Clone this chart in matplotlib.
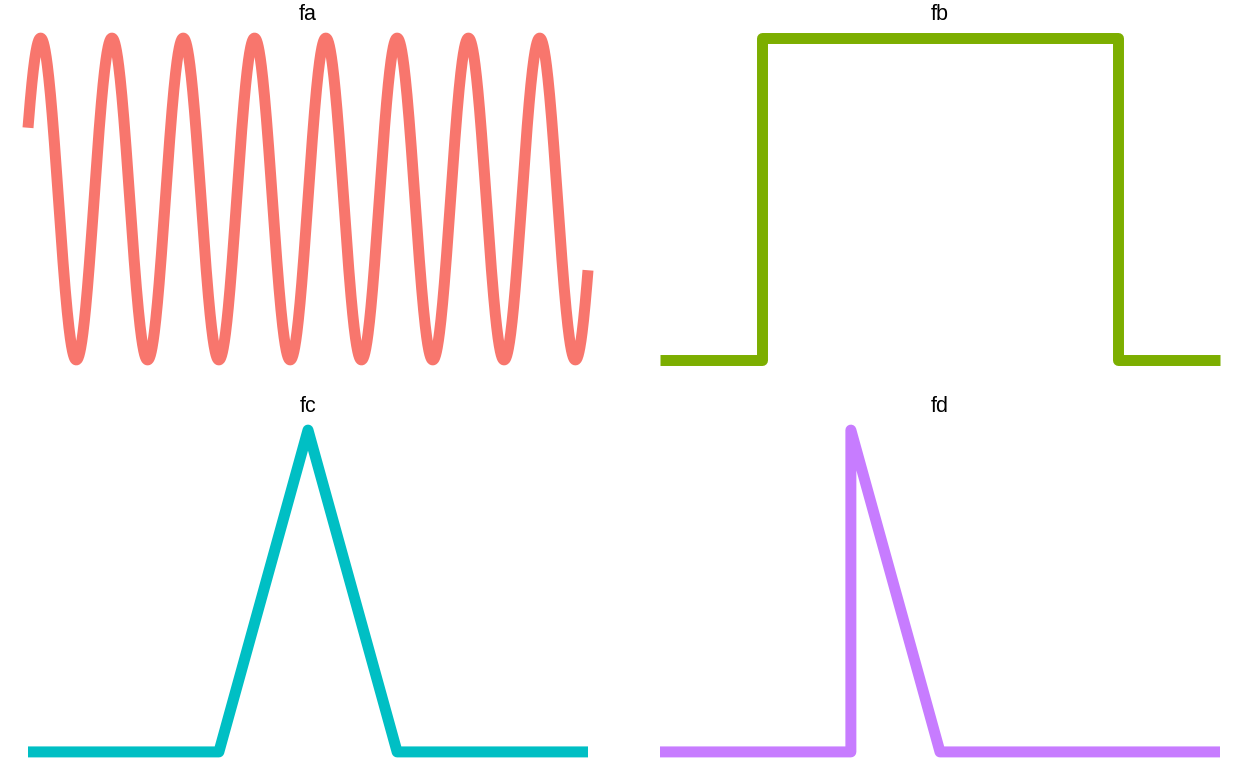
import numpy as np
import matplotlib
matplotlib.use("Agg")
import matplotlib.pyplot as plt

# ---- data ----
panel_names = ["fa", "fb", "fc", "fd"]
panel_colors = ["#F8766D", "#7CAE00", "#00BFC4", "#C77CFF"]

x_min, x_max = -np.pi, np.pi

# fa: sine wave, cycles per unit x (~7.85 cycles over the range)
fa_cycles_per_unit = 1.25
fa_amplitude = 1.0

# fb: rectangle pulse breakpoints
fb_x = [-np.pi, -2.0, -2.0, 2.0, 2.0, np.pi]
fb_y = [0, 0, 1, 1, 0, 0]

# fc: triangle pulse breakpoints
fc_x = [-np.pi, -1.0, 0.0, 1.0, np.pi]
fc_y = [0, 0, 1, 0, 0]

# fd: sawtooth pulse breakpoints
fd_x = [-np.pi, -1.0, -1.0, 0.0, np.pi]
fd_y = [0, 0, 1, 0, 0]

# ---- figure ----
W, H = 1248, 768
fig = plt.figure(figsize=(W / 100, H / 100), dpi=100)

left_w = 616 / W
right_x = 632 / W
ph = 354 / H
top_y = 1 - 376 / H

positions = [
    [0, top_y, left_w, ph],
    [right_x, top_y, left_w, ph],
    [0, 0, left_w, ph],
    [right_x, 0, left_w, ph],
]

fa_x = np.linspace(x_min, x_max, 2000)
fa_y = fa_amplitude * np.sin(2 * np.pi * fa_cycles_per_unit * fa_x)

series = [(fa_x, fa_y), (fb_x, fb_y), (fc_x, fc_y), (fd_x, fd_y)]

for pos, name, col, (xs, ys) in zip(positions, panel_names, panel_colors, series):
    ax = fig.add_axes(pos)
    ax.plot(xs, ys, color=col, linewidth=7.9, solid_capstyle="butt",
            solid_joinstyle="round")
    xr = x_max - x_min
    ax.set_xlim(x_min - 0.05 * xr, x_max + 0.05 * xr)
    ymin, ymax = float(np.min(ys)), float(np.max(ys))
    yr = ymax - ymin
    ax.set_ylim(ymin - 0.05 * yr, ymax + 0.05 * yr)
    ax.axis("off")
    # strip title (baseline ~2 px above panel strip bottom)
    fig.text(pos[0] + pos[2] / 2, pos[1] + pos[3] + 2 / H, name,
             ha="center", va="baseline", fontsize=15.5,
             family=["Liberation Sans", "DejaVu Sans"], color="black")

fig.savefig("out.png", dpi=100, facecolor="white")
